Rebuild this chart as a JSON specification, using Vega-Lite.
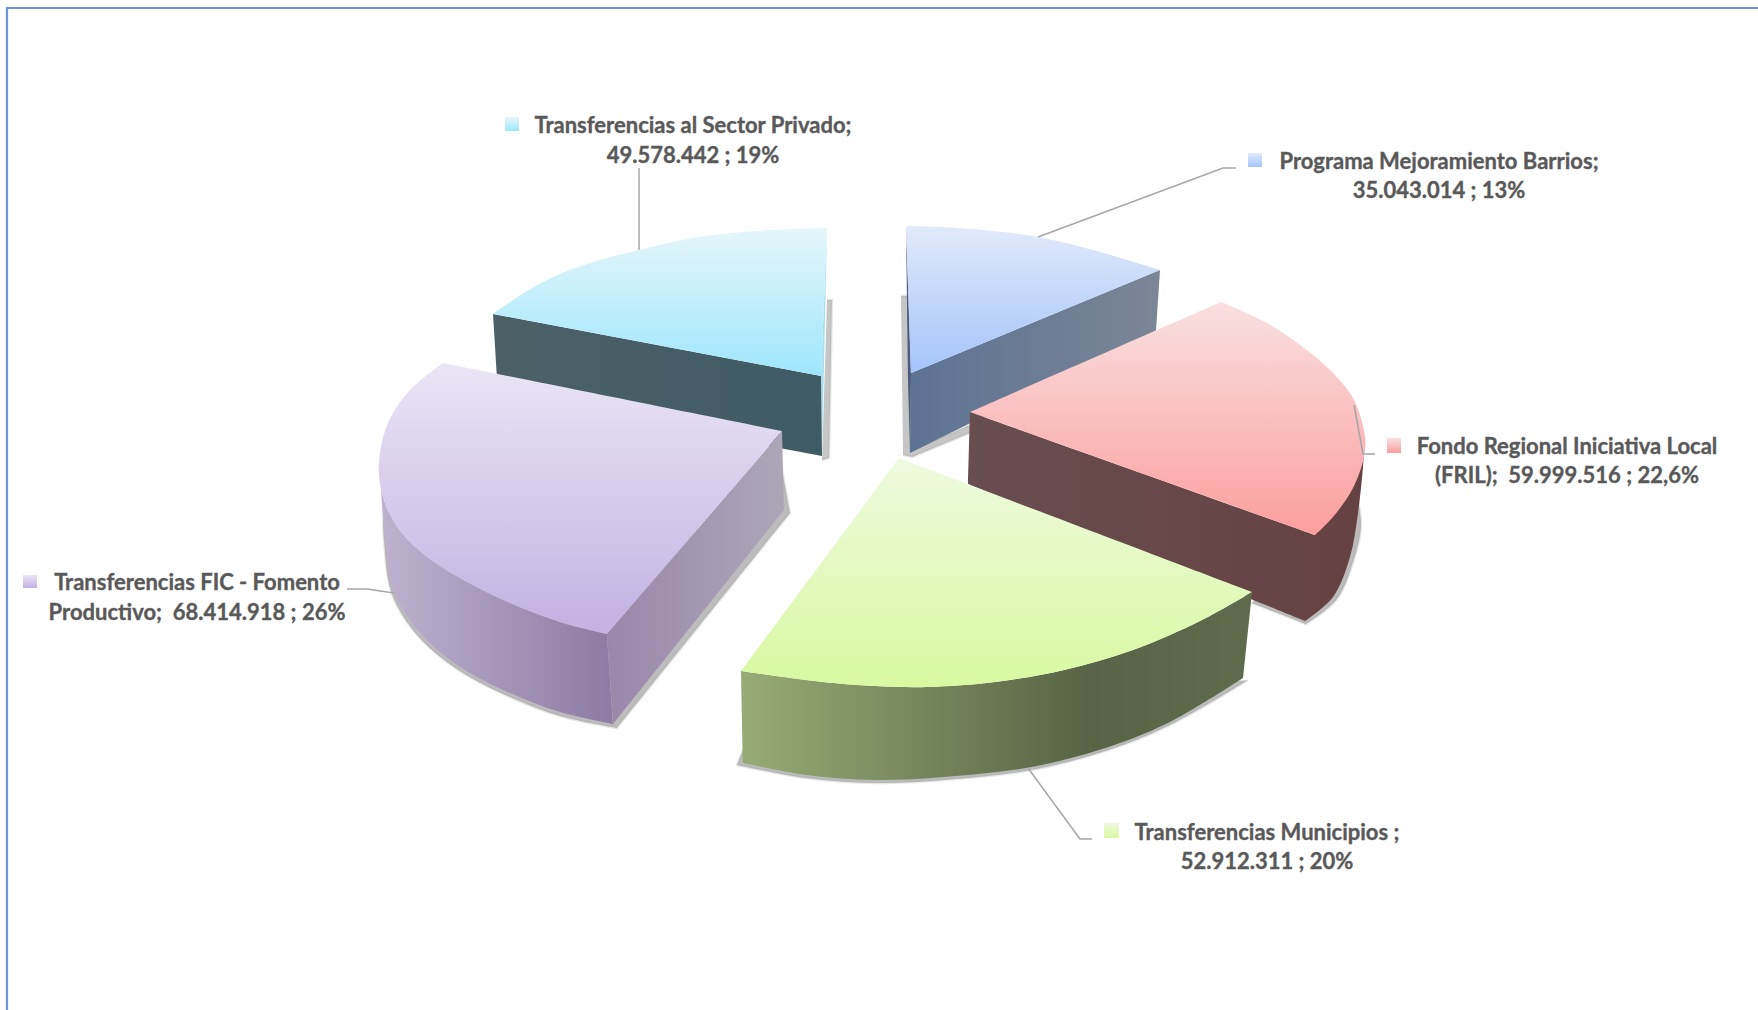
{
"$schema":"https://vega.github.io/schema/vega-lite/v6.json",
"autosize":"none",
"width":1758,"height":1010,"padding":0,
"background":"white",
"config":{"view":{"stroke":null}},
"datasets":{
"caras":[
{"cara":"s_barrios","i":0,"x":901,"y":296},{"cara":"s_barrios","i":1,"x":908,"y":296},{"cara":"s_barrios","i":2,"x":912,"y":450},{"cara":"s_barrios","i":3,"x":970,"y":425},{"cara":"s_barrios","i":4,"x":972,"y":432},{"cara":"s_barrios","i":5,"x":912,"y":457},{"cara":"s_barrios","i":6,"x":903,"y":455},
{"cara":"s_privado","i":0,"x":827,"y":300},{"cara":"s_privado","i":1,"x":832,"y":300},{"cara":"s_privado","i":2,"x":829,"y":458},{"cara":"s_privado","i":3,"x":822,"y":460},

{"cara":"s_fic","i":0,"x":782,"y":470},{"cara":"s_fic","i":1,"x":790,"y":513},{"cara":"s_fic","i":2,"x":790,"y":513},{"cara":"s_fic","i":3,"x":617,"y":728},{"cara":"s_fic","i":4,"x":617,"y":728},{"cara":"s_fic","i":5,"x":560,"y":716},{"cara":"s_fic","i":6,"x":510,"y":697},{"cara":"s_fic","i":7,"x":460,"y":671},{"cara":"s_fic","i":8,"x":418,"y":636},{"cara":"s_fic","i":9,"x":392,"y":594},{"cara":"s_fic","i":10,"x":384,"y":540},{"cara":"s_fic","i":11,"x":383,"y":510},{"cara":"s_fic","i":12,"x":383,"y":510},{"cara":"s_fic","i":13,"x":600,"y":600},
{"cara":"s_fril","i":0,"x":1358,"y":500},{"cara":"s_fril","i":1,"x":1361,"y":527},{"cara":"s_fril","i":2,"x":1354,"y":559},{"cara":"s_fril","i":3,"x":1337,"y":599},{"cara":"s_fril","i":4,"x":1306,"y":624},{"cara":"s_fril","i":5,"x":1306,"y":624},{"cara":"s_fril","i":6,"x":1252,"y":603},{"cara":"s_fril","i":7,"x":1252,"y":603},{"cara":"s_fril","i":8,"x":1300,"y":560},
{"cara":"s_muni","i":0,"x":1248,"y":680},{"cara":"s_muni","i":1,"x":1168,"y":726},{"cara":"s_muni","i":2,"x":1099,"y":753},{"cara":"s_muni","i":3,"x":1026,"y":771},{"cara":"s_muni","i":4,"x":944,"y":780},{"cara":"s_muni","i":5,"x":875,"y":783},{"cara":"s_muni","i":6,"x":806,"y":778},{"cara":"s_muni","i":7,"x":737,"y":765},{"cara":"s_muni","i":8,"x":737,"y":765},{"cara":"s_muni","i":9,"x":745,"y":745},{"cara":"s_muni","i":10,"x":745,"y":745},{"cara":"s_muni","i":11,"x":1000,"y":700},

{"cara":"barrios_borde","i":0,"x":906,"y":226},{"cara":"barrios_borde","i":1,"x":911,"y":373},{"cara":"barrios_borde","i":2,"x":910,"y":453},{"cara":"barrios_borde","i":3,"x":908,"y":380},
{"cara":"barrios_lado","i":0,"x":1160,"y":270},{"cara":"barrios_lado","i":1,"x":1156,"y":331},{"cara":"barrios_lado","i":2,"x":910,"y":453},{"cara":"barrios_lado","i":3,"x":911,"y":373},
{"cara":"barrios_sup","i":0,"x":911,"y":373},{"cara":"barrios_sup","i":1,"x":911,"y":373},{"cara":"barrios_sup","i":2,"x":906,"y":226},{"cara":"barrios_sup","i":3,"x":906,"y":226},{"cara":"barrios_sup","i":4,"x":943,"y":227},{"cara":"barrios_sup","i":5,"x":993,"y":231},{"cara":"barrios_sup","i":6,"x":1038,"y":237},{"cara":"barrios_sup","i":7,"x":1093,"y":250},{"cara":"barrios_sup","i":8,"x":1160,"y":270},
{"cara":"barrios_clave","i":0,"x":1248,"y":153},{"cara":"barrios_clave","i":1,"x":1248,"y":153},{"cara":"barrios_clave","i":2,"x":1262,"y":153},{"cara":"barrios_clave","i":3,"x":1262,"y":153},{"cara":"barrios_clave","i":4,"x":1262,"y":167},{"cara":"barrios_clave","i":5,"x":1262,"y":167},{"cara":"barrios_clave","i":6,"x":1248,"y":167},{"cara":"barrios_clave","i":7,"x":1248,"y":167},

{"cara":"privado_borde","i":0,"x":827,"y":228},{"cara":"privado_borde","i":1,"x":822,"y":456},{"cara":"privado_borde","i":2,"x":821,"y":376},
{"cara":"privado_lado","i":0,"x":493,"y":314},{"cara":"privado_lado","i":1,"x":821,"y":376},{"cara":"privado_lado","i":2,"x":822,"y":456},{"cara":"privado_lado","i":3,"x":498,"y":395},
{"cara":"privado_sup","i":0,"x":821,"y":376},{"cara":"privado_sup","i":1,"x":821,"y":376},{"cara":"privado_sup","i":2,"x":493,"y":314},{"cara":"privado_sup","i":3,"x":493,"y":314},{"cara":"privado_sup","i":4,"x":527,"y":291},{"cara":"privado_sup","i":5,"x":560,"y":274},{"cara":"privado_sup","i":6,"x":597,"y":261},{"cara":"privado_sup","i":7,"x":639,"y":250},{"cara":"privado_sup","i":8,"x":693,"y":238},{"cara":"privado_sup","i":9,"x":743,"y":232},{"cara":"privado_sup","i":10,"x":793,"y":229},{"cara":"privado_sup","i":11,"x":827,"y":228},
{"cara":"privado_clave","i":0,"x":505,"y":117},{"cara":"privado_clave","i":1,"x":505,"y":117},{"cara":"privado_clave","i":2,"x":519,"y":117},{"cara":"privado_clave","i":3,"x":519,"y":117},{"cara":"privado_clave","i":4,"x":519,"y":131},{"cara":"privado_clave","i":5,"x":519,"y":131},{"cara":"privado_clave","i":6,"x":505,"y":131},{"cara":"privado_clave","i":7,"x":505,"y":131},

{"cara":"fic_frente","i":0,"x":379,"y":463},{"cara":"fic_frente","i":1,"x":382,"y":493},{"cara":"fic_frente","i":2,"x":397,"y":527},{"cara":"fic_frente","i":3,"x":427,"y":557},{"cara":"fic_frente","i":4,"x":467,"y":582},{"cara":"fic_frente","i":5,"x":510,"y":603},{"cara":"fic_frente","i":6,"x":560,"y":622},{"cara":"fic_frente","i":7,"x":607,"y":634},{"cara":"fic_frente","i":8,"x":607,"y":634},{"cara":"fic_frente","i":9,"x":613,"y":724},{"cara":"fic_frente","i":10,"x":613,"y":724},{"cara":"fic_frente","i":11,"x":560,"y":712},{"cara":"fic_frente","i":12,"x":510,"y":693},{"cara":"fic_frente","i":13,"x":460,"y":667},{"cara":"fic_frente","i":14,"x":420,"y":633},{"cara":"fic_frente","i":15,"x":393,"y":590},{"cara":"fic_frente","i":16,"x":385,"y":537},{"cara":"fic_frente","i":17,"x":381,"y":490},
{"cara":"fic_lado","i":0,"x":782,"y":431},{"cara":"fic_lado","i":1,"x":607,"y":634},{"cara":"fic_lado","i":2,"x":613,"y":724},{"cara":"fic_lado","i":3,"x":784,"y":510},
{"cara":"fic_sup","i":0,"x":607,"y":634},{"cara":"fic_sup","i":1,"x":607,"y":634},{"cara":"fic_sup","i":2,"x":782,"y":431},{"cara":"fic_sup","i":3,"x":782,"y":431},{"cara":"fic_sup","i":4,"x":443,"y":363},{"cara":"fic_sup","i":5,"x":443,"y":363},{"cara":"fic_sup","i":6,"x":410,"y":390},{"cara":"fic_sup","i":7,"x":388,"y":423},{"cara":"fic_sup","i":8,"x":379,"y":463},{"cara":"fic_sup","i":9,"x":382,"y":493},{"cara":"fic_sup","i":10,"x":397,"y":527},{"cara":"fic_sup","i":11,"x":427,"y":557},{"cara":"fic_sup","i":12,"x":467,"y":582},{"cara":"fic_sup","i":13,"x":510,"y":603},{"cara":"fic_sup","i":14,"x":560,"y":622},{"cara":"fic_sup","i":15,"x":607,"y":634},
{"cara":"fic_clave","i":0,"x":23,"y":575},{"cara":"fic_clave","i":1,"x":23,"y":575},{"cara":"fic_clave","i":2,"x":37,"y":575},{"cara":"fic_clave","i":3,"x":37,"y":575},{"cara":"fic_clave","i":4,"x":37,"y":588},{"cara":"fic_clave","i":5,"x":37,"y":588},{"cara":"fic_clave","i":6,"x":23,"y":588},{"cara":"fic_clave","i":7,"x":23,"y":588},

{"cara":"fril_lado","i":0,"x":1364,"y":450},{"cara":"fril_lado","i":1,"x":1363,"y":467},{"cara":"fril_lado","i":2,"x":1358,"y":513},{"cara":"fril_lado","i":3,"x":1350,"y":557},{"cara":"fril_lado","i":4,"x":1333,"y":597},{"cara":"fril_lado","i":5,"x":1305,"y":621},{"cara":"fril_lado","i":6,"x":1305,"y":621},{"cara":"fril_lado","i":7,"x":968,"y":484},{"cara":"fril_lado","i":8,"x":968,"y":484},{"cara":"fril_lado","i":9,"x":970,"y":412},{"cara":"fril_lado","i":10,"x":970,"y":412},{"cara":"fril_lado","i":11,"x":1315,"y":535},
{"cara":"fril_sup","i":0,"x":970,"y":412},{"cara":"fril_sup","i":1,"x":970,"y":412},{"cara":"fril_sup","i":2,"x":1221,"y":302},{"cara":"fril_sup","i":3,"x":1221,"y":302},{"cara":"fril_sup","i":4,"x":1267,"y":323},{"cara":"fril_sup","i":5,"x":1300,"y":345},{"cara":"fril_sup","i":6,"x":1333,"y":373},{"cara":"fril_sup","i":7,"x":1354,"y":400},{"cara":"fril_sup","i":8,"x":1365,"y":437},{"cara":"fril_sup","i":9,"x":1364,"y":457},{"cara":"fril_sup","i":10,"x":1353,"y":488},{"cara":"fril_sup","i":11,"x":1333,"y":517},{"cara":"fril_sup","i":12,"x":1315,"y":535},
{"cara":"fril_clave","i":0,"x":1387,"y":438},{"cara":"fril_clave","i":1,"x":1387,"y":438},{"cara":"fril_clave","i":2,"x":1401,"y":438},{"cara":"fril_clave","i":3,"x":1401,"y":438},{"cara":"fril_clave","i":4,"x":1401,"y":453},{"cara":"fril_clave","i":5,"x":1401,"y":453},{"cara":"fril_clave","i":6,"x":1387,"y":453},{"cara":"fril_clave","i":7,"x":1387,"y":453},

{"cara":"muni_frente","i":0,"x":1252,"y":592},{"cara":"muni_frente","i":1,"x":1202,"y":620},{"cara":"muni_frente","i":2,"x":1133,"y":650},{"cara":"muni_frente","i":3,"x":1064,"y":670},{"cara":"muni_frente","i":4,"x":995,"y":682},{"cara":"muni_frente","i":5,"x":927,"y":687},{"cara":"muni_frente","i":6,"x":875,"y":686},{"cara":"muni_frente","i":7,"x":823,"y":682},{"cara":"muni_frente","i":8,"x":741,"y":671},{"cara":"muni_frente","i":9,"x":741,"y":671},{"cara":"muni_frente","i":10,"x":743,"y":763},{"cara":"muni_frente","i":11,"x":743,"y":763},{"cara":"muni_frente","i":12,"x":806,"y":775},{"cara":"muni_frente","i":13,"x":875,"y":780},{"cara":"muni_frente","i":14,"x":944,"y":777},{"cara":"muni_frente","i":15,"x":1026,"y":768},{"cara":"muni_frente","i":16,"x":1099,"y":750},{"cara":"muni_frente","i":17,"x":1168,"y":723},{"cara":"muni_frente","i":18,"x":1243,"y":678},
{"cara":"muni_sup","i":0,"x":899,"y":458},{"cara":"muni_sup","i":1,"x":899,"y":458},{"cara":"muni_sup","i":2,"x":1252,"y":592},{"cara":"muni_sup","i":3,"x":1252,"y":592},{"cara":"muni_sup","i":4,"x":1202,"y":620},{"cara":"muni_sup","i":5,"x":1133,"y":650},{"cara":"muni_sup","i":6,"x":1064,"y":670},{"cara":"muni_sup","i":7,"x":995,"y":682},{"cara":"muni_sup","i":8,"x":927,"y":687},{"cara":"muni_sup","i":9,"x":875,"y":686},{"cara":"muni_sup","i":10,"x":823,"y":682},{"cara":"muni_sup","i":11,"x":741,"y":671},
{"cara":"muni_clave","i":0,"x":1104,"y":823},{"cara":"muni_clave","i":1,"x":1104,"y":823},{"cara":"muni_clave","i":2,"x":1119,"y":823},{"cara":"muni_clave","i":3,"x":1119,"y":823},{"cara":"muni_clave","i":4,"x":1119,"y":838},{"cara":"muni_clave","i":5,"x":1119,"y":838},{"cara":"muni_clave","i":6,"x":1104,"y":838},{"cara":"muni_clave","i":7,"x":1104,"y":838}
],
"guias":[
{"serie":"privado","i":0,"x":639,"y":168},{"serie":"privado","i":1,"x":639,"y":250},
{"serie":"barrios","i":0,"x":1236,"y":168},{"serie":"barrios","i":1,"x":1223,"y":168},{"serie":"barrios","i":2,"x":1038,"y":237},
{"serie":"fril","i":0,"x":1375,"y":454},{"serie":"fril","i":1,"x":1363,"y":454},{"serie":"fril","i":2,"x":1354,"y":405},
{"serie":"muni","i":0,"x":1092,"y":839},{"serie":"muni","i":1,"x":1080,"y":839},{"serie":"muni","i":2,"x":1028,"y":768},
{"serie":"fic","i":0,"x":347,"y":589},{"serie":"fic","i":1,"x":367,"y":589},{"serie":"fic","i":2,"x":394,"y":593}
],
"marco":[{"i":0,"x":7,"y":1010},{"i":1,"x":7,"y":8},{"i":2,"x":1758,"y":8}],
"etiquetas":[
{"serie":"Transferencias al Sector Privado","valor":49578442,"porcentaje":19,"texto":"Transferencias al Sector Privado;","x":693,"y":125.5},
{"serie":"Transferencias al Sector Privado","valor":49578442,"porcentaje":19,"texto":"49.578.442 ; 19%","x":693,"y":155.5},
{"serie":"Programa Mejoramiento Barrios","valor":35043014,"porcentaje":13,"texto":"Programa Mejoramiento Barrios;","x":1439,"y":161.5},
{"serie":"Programa Mejoramiento Barrios","valor":35043014,"porcentaje":13,"texto":"35.043.014 ; 13%","x":1439,"y":190.5},
{"serie":"Fondo Regional Iniciativa Local (FRIL)","valor":59999516,"porcentaje":22.6,"texto":"Fondo Regional Iniciativa Local","x":1567,"y":447},
{"serie":"Fondo Regional Iniciativa Local (FRIL)","valor":59999516,"porcentaje":22.6,"texto":"(FRIL);\u00a0 59.999.516 ; 22,6%","x":1567,"y":476},
{"serie":"Transferencias Municipios","valor":52912311,"porcentaje":20,"texto":"Transferencias Municipios ;","x":1267,"y":832.5},
{"serie":"Transferencias Municipios","valor":52912311,"porcentaje":20,"texto":"52.912.311 ; 20%","x":1267,"y":861.5},
{"serie":"Transferencias FIC - Fomento Productivo","valor":68414918,"porcentaje":26,"texto":"Transferencias FIC - Fomento","x":197,"y":582.5},
{"serie":"Transferencias FIC - Fomento Productivo","valor":68414918,"porcentaje":26,"texto":"Productivo;\u00a0 68.414.918 ; 26%","x":197,"y":612.5}
]
},
"encoding":{
"x":{"field":"x","type":"quantitative","scale":{"domain":[0,1758],"nice":false,"zero":false},"axis":null},
"y":{"field":"y","type":"quantitative","scale":{"domain":[1010,0],"nice":false,"zero":false},"axis":null},
"order":{"field":"i","type":"quantitative"}
},
"layer":[
{"data":{"name":"marco"},"mark":{"type":"line","stroke":"#6a97da","strokeWidth":2.2}},
{"data":{"name":"caras"},"transform":[{"filter":{"field":"cara","oneOf":["s_barrios","s_privado"]}}],
 "mark":{"type":"line","fill":"#a0a0a0","fillOpacity":0.6,"stroke":"#a0a0a0","strokeOpacity":0.25,"strokeWidth":2.5},"encoding":{"detail":{"field":"cara"}}},
{"data":{"name":"caras"},"transform":[{"filter":{"field":"cara","oneOf":["s_fic","s_fril","s_muni"]}}],
 "mark":{"type":"line","interpolate":"catmull-rom","fill":"#a0a0a0","fillOpacity":0.7,"stroke":"#a0a0a0","strokeOpacity":0.25,"strokeWidth":2.5},"encoding":{"detail":{"field":"cara"}}},
{"data":{"name":"caras"},"transform":[{"filter":{"field":"cara","equal":"barrios_borde"}}],"mark":{"type":"line","fill":"#4a5a78","strokeWidth":0,"stroke":null}},
{"data":{"name":"caras"},"transform":[{"filter":{"field":"cara","equal":"barrios_lado"}}],"mark":{"type":"line","strokeWidth":0,"stroke":null,"fill":{"gradient":"linear","x1":0,"y1":0,"x2":1,"y2":0,"stops":[{"offset":0,"color":"#5d7294"},{"offset":1,"color":"#7b8696"}]}}},
{"data":{"name":"caras"},"transform":[{"filter":{"field":"cara","oneOf":["barrios_sup","barrios_clave"]}}],"mark":{"type":"line","interpolate":"catmull-rom","strokeWidth":0,"stroke":null,"fill":{"gradient":"linear","x1":0,"y1":0,"x2":0,"y2":1,"stops":[{"offset":0,"color":"#e1eafa"},{"offset":1,"color":"#a4c4fa"}]}},"encoding":{"detail":{"field":"cara"}}},
{"data":{"name":"caras"},"transform":[{"filter":{"field":"cara","equal":"privado_borde"}}],"mark":{"type":"line","fill":"#a9e0ee","strokeWidth":0,"stroke":null}},
{"data":{"name":"caras"},"transform":[{"filter":{"field":"cara","equal":"privado_lado"}}],"mark":{"type":"line","strokeWidth":0,"stroke":null,"fill":{"gradient":"linear","x1":0,"y1":0,"x2":1,"y2":0,"stops":[{"offset":0,"color":"#4d6068"},{"offset":1,"color":"#3f5b65"}]}}},
{"data":{"name":"caras"},"transform":[{"filter":{"field":"cara","oneOf":["privado_sup","privado_clave"]}}],"mark":{"type":"line","interpolate":"catmull-rom","strokeWidth":0,"stroke":null,"fill":{"gradient":"linear","x1":0,"y1":0,"x2":0,"y2":1,"stops":[{"offset":0,"color":"#e6f6fb"},{"offset":1,"color":"#9ee6fc"}]}},"encoding":{"detail":{"field":"cara"}}},
{"data":{"name":"caras"},"transform":[{"filter":{"field":"cara","equal":"fic_frente"}}],"mark":{"type":"line","interpolate":"catmull-rom","strokeWidth":0,"stroke":null,"fill":{"gradient":"linear","x1":0,"y1":0,"x2":1,"y2":0,"stops":[{"offset":0,"color":"#bfb2cf"},{"offset":1,"color":"#8c7ba4"}]}}},
{"data":{"name":"caras"},"transform":[{"filter":{"field":"cara","equal":"fic_lado"}}],"mark":{"type":"line","strokeWidth":0,"stroke":null,"fill":{"gradient":"linear","x1":0,"y1":0,"x2":1,"y2":0,"stops":[{"offset":0,"color":"#9a87ab"},{"offset":1,"color":"#aca6b8"}]}}},
{"data":{"name":"caras"},"transform":[{"filter":{"field":"cara","oneOf":["fic_sup","fic_clave"]}}],"mark":{"type":"line","interpolate":"catmull-rom","strokeWidth":0,"stroke":null,"fill":{"gradient":"linear","x1":0,"y1":0,"x2":0,"y2":1,"stops":[{"offset":0,"color":"#eae5f6"},{"offset":1,"color":"#c3b1e2"}]}},"encoding":{"detail":{"field":"cara"}}},
{"data":{"name":"caras"},"transform":[{"filter":{"field":"cara","equal":"fril_lado"}}],"mark":{"type":"line","interpolate":"catmull-rom","strokeWidth":0,"stroke":null,"fill":{"gradient":"linear","x1":0,"y1":0,"x2":1,"y2":0,"stops":[{"offset":0,"color":"#694e4f"},{"offset":1,"color":"#664142"}]}}},
{"data":{"name":"caras"},"transform":[{"filter":{"field":"cara","oneOf":["fril_sup","fril_clave"]}}],"mark":{"type":"line","interpolate":"catmull-rom","strokeWidth":0,"stroke":null,"fill":{"gradient":"linear","x1":0,"y1":0,"x2":0,"y2":1,"stops":[{"offset":0,"color":"#f9e0e0"},{"offset":1,"color":"#fc9e9e"}]}},"encoding":{"detail":{"field":"cara"}}},
{"data":{"name":"caras"},"transform":[{"filter":{"field":"cara","equal":"muni_frente"}}],"mark":{"type":"line","interpolate":"catmull-rom","strokeWidth":0,"stroke":null,"fill":{"gradient":"linear","x1":0,"y1":0,"x2":1,"y2":0,"stops":[{"offset":0,"color":"#96ac75"},{"offset":0.68,"color":"#586445"},{"offset":1,"color":"#5f6b4d"}]}}},
{"data":{"name":"caras"},"transform":[{"filter":{"field":"cara","oneOf":["muni_sup","muni_clave"]}}],"mark":{"type":"line","interpolate":"catmull-rom","strokeWidth":0,"stroke":null,"fill":{"gradient":"linear","x1":0,"y1":0,"x2":0,"y2":1,"stops":[{"offset":0,"color":"#eefadf"},{"offset":1,"color":"#d8f9a0"}]}},"encoding":{"detail":{"field":"cara"}}},
{"data":{"name":"guias"},"mark":{"type":"line","stroke":"#a6a6a6","strokeWidth":1.5},"encoding":{"detail":{"field":"serie"}}},
{"data":{"name":"etiquetas"},"mark":{"type":"text","font":"Lato","fontWeight":"bold","fontSize":22,"fill":"#595959","stroke":"#595959","strokeWidth":0.35,"align":"center","baseline":"middle"},"encoding":{"text":{"field":"texto"},"order":null}}
]
}
